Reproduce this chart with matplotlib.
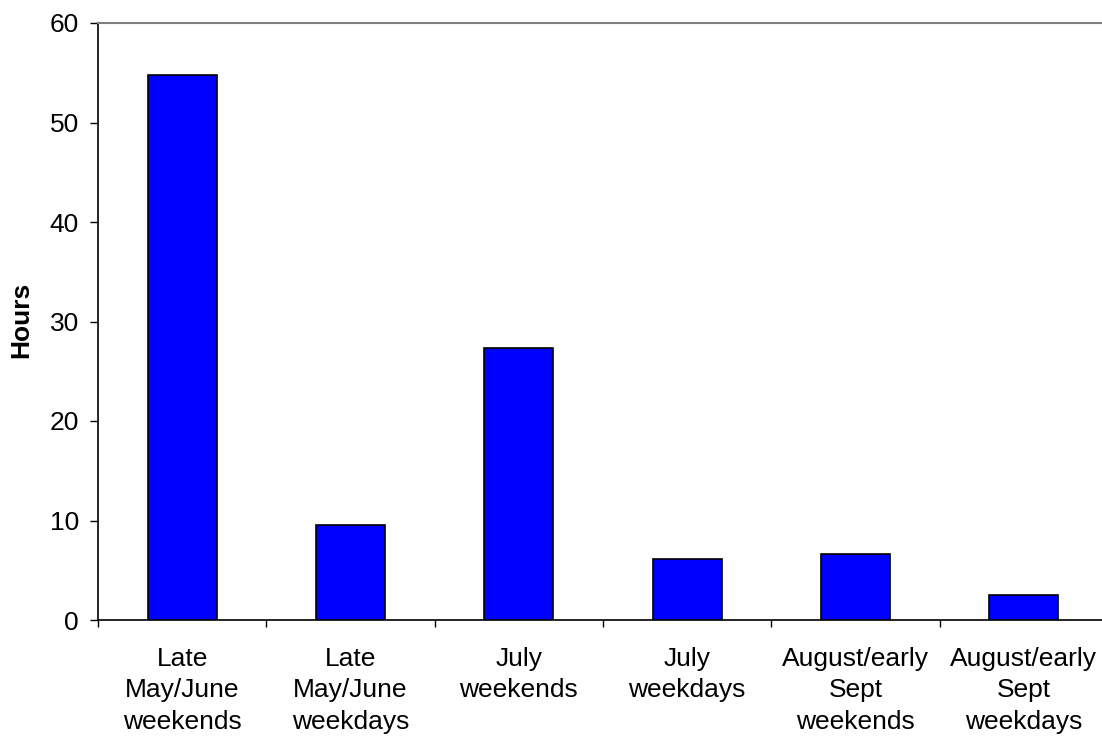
import matplotlib
matplotlib.use("Agg")
import matplotlib.pyplot as plt

categories = ["Late\nMay/June\nweekends", "Late\nMay/June\nweekdays", "July\nweekends",
              "July\nweekdays", "August/early\nSept\nweekends", "August/early\nSept\nweekdays"]
hours = [54.8, 9.5, 27.3, 6.1, 6.6, 2.5]
y_ticks = [0, 10, 20, 30, 40, 50, 60]

plt.rcParams["font.family"] = ["Liberation Sans", "DejaVu Sans"]

fig = plt.figure(figsize=(11.02, 7.37), dpi=100)
W, H = 1102, 737
ax = fig.add_axes([98 / W, (H - 620) / H, (1108 - 98) / W, (620 - 23) / H])

x = list(range(len(categories)))
ax.bar(x, hours, width=0.41, color="#0000FF", edgecolor="black", linewidth=1.2, zorder=3)

ax.set_xlim(-0.5, len(categories) - 0.5)
ax.set_ylim(0, 60)
ax.set_yticks(y_ticks)
ax.set_yticklabels([str(t) for t in y_ticks], fontsize=19)

ax.set_xticks([i - 0.5 for i in range(len(categories) + 1)])
ax.set_xticklabels([])
ax.tick_params(axis="x", direction="out", length=5, width=1, colors="black")
ax.tick_params(axis="y", direction="out", length=5.8, width=1, pad=8, colors="black")
for i, lab in enumerate(categories):
    ax.text(i, -2.7, lab, ha="center", va="top", fontsize=19, linespacing=1.4,
            transform=ax.transData)

fig.text(21 / W, (H - 320) / H, "Hours", fontsize=19, fontweight="bold",
         rotation=90, ha="center", va="center")

ax.spines["right"].set_visible(False)
ax.spines["top"].set_color("#808080")
ax.spines["top"].set_linewidth(1.5)
ax.spines["left"].set_linewidth(1.2)
ax.spines["bottom"].set_linewidth(1.2)

fig.savefig("out.png", dpi=100)
